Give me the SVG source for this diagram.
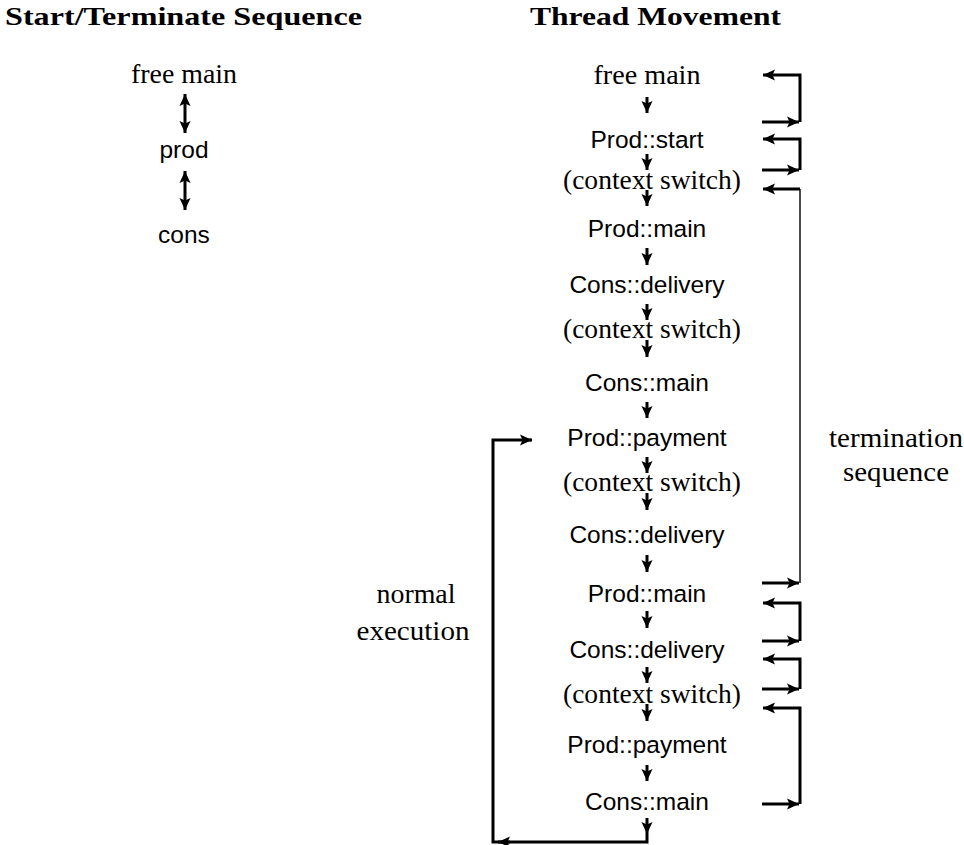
<svg xmlns="http://www.w3.org/2000/svg" width="964" height="845" viewBox="0 0 964 845">
<style>
.bg{fill:#fff}
.hd{font-family:"Liberation Serif","Times New Roman",serif;font-weight:bold;font-size:26px;fill:#000}
.sf{font-family:"Liberation Serif","Times New Roman",serif;font-size:27px;fill:#000;text-anchor:middle}
.ss{font-family:"Liberation Sans",Arial,sans-serif;font-size:24.5px;fill:#000;text-anchor:middle}
.ln{fill:none;stroke:#000;stroke-width:3}
.thin{fill:none;stroke:#000;stroke-width:1.4}
.ar{marker-end:url(#ah)}
.dbl{marker-start:url(#ahs);marker-end:url(#ah)}
</style>
<defs>
<marker id="ah" viewBox="-12 -6 12 12" refX="0" refY="0" markerWidth="12" markerHeight="12" markerUnits="userSpaceOnUse" orient="auto">
<path d="M0,0 L-12,-5.5 L-9.5,0 L-12,5.5 Z" fill="#000"/>
</marker>
<marker id="ahs" viewBox="-12 -6 12 12" refX="0" refY="0" markerWidth="12" markerHeight="12" markerUnits="userSpaceOnUse" orient="auto-start-reverse">
<path d="M0,0 L-12,-5.5 L-9.5,0 L-12,5.5 Z" fill="#000"/>
</marker>
</defs>
<rect class="bg" x="0" y="0" width="964" height="845"/>

<g id="headers">
<text class="hd" x="5" y="25" textLength="357" lengthAdjust="spacingAndGlyphs">Start/Terminate Sequence</text>
<text class="hd" x="530" y="25" textLength="251" lengthAdjust="spacingAndGlyphs">Thread Movement</text>
</g>

<g id="left-free-main"><text class="sf" x="184" y="83" textLength="106" lengthAdjust="spacingAndGlyphs">free main</text></g>
<g id="left-prod"><text class="ss" x="184" y="158">prod</text></g>
<g id="left-cons"><text class="ss" x="184" y="243">cons</text></g>

<g id="r1"><text class="sf" x="647" y="84" textLength="107" lengthAdjust="spacingAndGlyphs">free main</text></g>
<g id="r2"><text class="ss" x="647" y="148">Prod::start</text></g>
<g id="r3"><text class="sf" x="652" y="189" textLength="178" lengthAdjust="spacingAndGlyphs">(context switch)</text></g>
<g id="r4"><text class="ss" x="647" y="237">Prod::main</text></g>
<g id="r5"><text class="ss" x="647" y="293">Cons::delivery</text></g>
<g id="r6"><text class="sf" x="652" y="338" textLength="178" lengthAdjust="spacingAndGlyphs">(context switch)</text></g>
<g id="r7"><text class="ss" x="647" y="391">Cons::main</text></g>
<g id="r8"><text class="ss" x="647" y="446">Prod::payment</text></g>
<g id="r9"><text class="sf" x="652" y="491" textLength="178" lengthAdjust="spacingAndGlyphs">(context switch)</text></g>
<g id="r10"><text class="ss" x="647" y="543">Cons::delivery</text></g>
<g id="r11"><text class="ss" x="647" y="602">Prod::main</text></g>
<g id="r12"><text class="ss" x="647" y="658">Cons::delivery</text></g>
<g id="r13"><text class="sf" x="652" y="703" textLength="178" lengthAdjust="spacingAndGlyphs">(context switch)</text></g>
<g id="r14"><text class="ss" x="647" y="753">Prod::payment</text></g>
<g id="r15"><text class="ss" x="647" y="810">Cons::main</text></g>

<g id="label-termination">
<text class="sf" x="896" y="447" textLength="134" lengthAdjust="spacingAndGlyphs">termination</text>
<text class="sf" x="896" y="481" textLength="106" lengthAdjust="spacingAndGlyphs">sequence</text>
</g>
<g id="label-normal">
<text class="sf" x="416" y="603" textLength="79" lengthAdjust="spacingAndGlyphs">normal</text>
<text class="sf" x="413" y="640" textLength="113" lengthAdjust="spacingAndGlyphs">execution</text>
</g>

<g id="connectors">
<path class="ln dbl" d="M185,94 V133"/>
<path class="ln dbl" d="M185,171 V210"/>

<path class="ln ar" d="M647,97 V113"/>
<path class="ln ar" d="M647,154 V170"/>
<path class="ln ar" d="M647,190 V206"/>
<path class="ln ar" d="M647,248 V265"/>
<path class="ln ar" d="M647,304 V320"/>
<path class="ln ar" d="M647,340 V357"/>
<path class="ln ar" d="M647,402 V418"/>
<path class="ln ar" d="M647,457 V473"/>
<path class="ln ar" d="M647,493 V510"/>
<path class="ln ar" d="M647,555 V572"/>
<path class="ln ar" d="M647,611 V628"/>
<path class="ln ar" d="M647,667 V683"/>
<path class="ln ar" d="M647,704 V721"/>
<path class="ln ar" d="M647,765 V781"/>
<path class="ln ar" d="M647,818 V834"/>

<path class="ln ar" d="M762,122 H799"/>
<path class="ln ar" d="M800,122 V75 H763"/>
<path class="ln ar" d="M762,170 H799"/>
<path class="ln ar" d="M800,170 V139 H763"/>
<path class="ln ar" d="M762,583 H799"/>
<path class="thin" d="M800,583 V189"/>
<path class="ln ar" d="M800,189 H763"/>
<path class="ln ar" d="M762,641 H799"/>
<path class="ln ar" d="M800,641 V603 H763"/>
<path class="ln ar" d="M762,689 H799"/>
<path class="ln ar" d="M800,689 V659 H763"/>
<path class="ln ar" d="M762,804 H799"/>
<path class="ln ar" d="M800,804 V708 H763"/>

<path class="ln" d="M647,834 V842 H493 V440 H531"/>
<path class="ln ar" d="M530,440 H532"/>
<path class="ln ar" d="M510,842 H498"/>
</g>
</svg>
